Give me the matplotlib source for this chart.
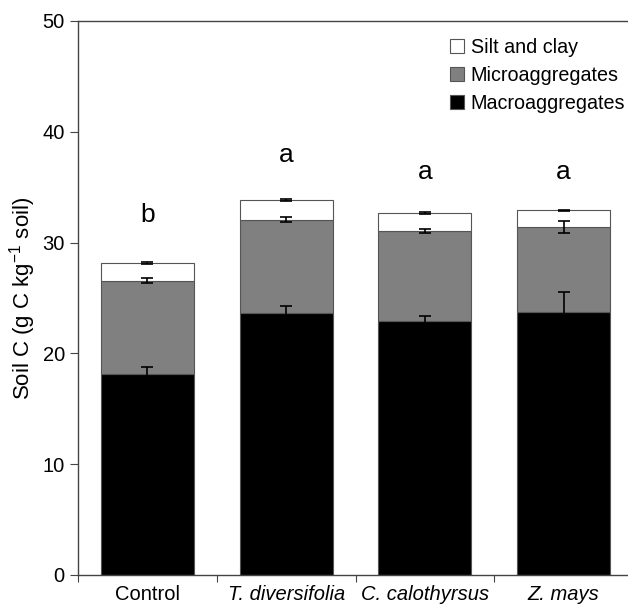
import matplotlib
matplotlib.use("Agg")
import matplotlib.pyplot as plt
import numpy as np
from matplotlib.patches import Patch

plt.rcParams['font.family'] = ['Liberation Sans', 'DejaVu Sans']
plt.rcParams['mathtext.fontset'] = 'custom'
plt.rcParams['mathtext.rm'] = 'Liberation Sans'

categories = ["Control", "T. diversifolia", "C. calothyrsus", "Z. mays"]
italic = [False, True, True, True]
macro = [18.15, 23.62, 22.92, 23.77]
macro_err = [0.65, 0.7, 0.5, 1.77]
micro_top = [26.55, 32.05, 31.05, 31.4]
micro_err = [0.22, 0.22, 0.22, 0.55]
silt_top = [28.15, 33.82, 32.65, 32.9]
silt_err = [0.1, 0.1, 0.08, 0.08]
letters = ["b", "a", "a", "a"]
letter_y = [32.5, 37.9, 36.4, 36.4]

micro = [t - m for t, m in zip(micro_top, macro)]
silt = [s - t for s, t in zip(silt_top, micro_top)]

fig = plt.figure(figsize=(6.28, 6.05), dpi=100)
W, H = 628, 605
ax = fig.add_axes([78 / W, 1 - 575 / H, 555 / W, 554 / H])

x = np.arange(len(categories))
bw = 0.67
ec = "#555555"
ax.bar(x, macro, bw, color="black", edgecolor=ec, linewidth=0.8, zorder=2)
ax.bar(x, micro, bw, bottom=macro, color="#808080", edgecolor=ec, linewidth=0.8, zorder=2)
ax.bar(x, silt, bw, bottom=micro_top, color="white", edgecolor=ec, linewidth=0.8, zorder=2)

ekw = dict(fmt="none", ecolor="black", elinewidth=1.2, capsize=4.5, capthick=1.2, zorder=3)
ax.errorbar(x, macro, yerr=macro_err, **ekw)
ax.errorbar(x, micro_top, yerr=micro_err, **ekw)
ax.errorbar(x, silt_top, yerr=silt_err, **ekw)

for xi, l, ly in zip(x, letters, letter_y):
    ax.text(xi, ly, l, ha="center", va="center", fontsize=19)

ax.set_xlim(-0.5, 3.5)
ax.set_ylim(0, 50)
ax.set_yticks(np.arange(0, 51, 10))
ax.set_xticks(np.arange(-0.5, 3.6, 1.0))
ax.set_xticklabels([])
ax.set_xticks(x, minor=True)
ax.set_xticklabels(categories, minor=True)
for lab, it in zip(ax.get_xticklabels(minor=True), italic):
    if it:
        lab.set_style("italic")
ax.tick_params(axis="x", which="minor", length=0, labelsize=14.5, pad=7)
ax.tick_params(axis="x", which="major", length=5, direction="out", color="#444444")
ax.tick_params(axis="y", length=6, direction="out", labelsize=14.5, color="#444444")
for s in ["left", "bottom", "top", "right"]:
    ax.spines[s].set_color("#444444")
    ax.spines[s].set_linewidth(1.0)

ax.set_ylabel("Soil C (g C kg$^{\\mathregular{-1}}$ soil)", fontsize=16, labelpad=3)

handles = [Patch(facecolor="white", edgecolor=ec, linewidth=0.8, label="Silt and clay"),
           Patch(facecolor="#808080", edgecolor=ec, linewidth=0.8, label="Microaggregates"),
           Patch(facecolor="black", edgecolor=ec, linewidth=0.8, label="Macroaggregates")]
fig.legend(handles=handles, loc="upper left", bbox_to_anchor=(440 / W, 1 - 28 / H),
           frameon=False, fontsize=14.2, handlelength=0.7, handleheight=0.7,
           handletextpad=0.35, labelspacing=0.45, borderpad=0)

fig.savefig("out.png", dpi=100)
